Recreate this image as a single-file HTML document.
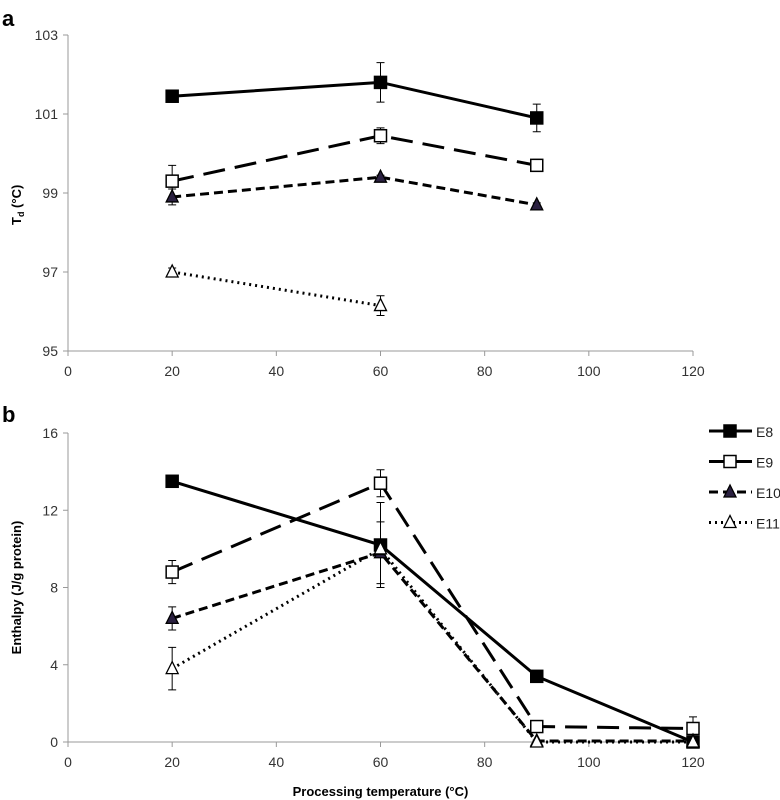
<!DOCTYPE html>
<html><head><meta charset="utf-8"><style>
body{margin:0;background:#fff}
svg{display:block;font-family:"Liberation Sans",sans-serif}
</style></head><body>
<svg id="chart" width="780" height="800" viewBox="0 0 780 800"></svg>
<script>
const xTicks=[0,20,40,60,80,100,120];
const aTicks=[95,97,99,101,103];
const bTicks=[0,4,8,12,16];
const seriesNames=["E8","E9","E10","E11"];
const aX=[[20,60,90],[20,60,90],[20,60,90],[20,60]];
const aY=[[101.45,101.8,100.9],[99.3,100.45,99.7],[98.9,99.4,98.7],[97.0,96.15]];
const aErr=[[0.15,0.5,0.35],[0.4,0.2,0.15],[0.2,0.05,0.05],[0.1,0.25]];
const bX=[20,60,90,120];
const bY=[[13.5,10.2,3.4,0],[8.8,13.4,0.8,0.7],[6.4,9.8,0.05,0.05],[3.8,10.0,0,0]];
const bErr=[[0.1,2.2,0.1,0.1],[0.6,0.7,0.1,0.6],[0.6,1.6,0.05,0.05],[1.1,0.3,0,0]];

const NS="http://www.w3.org/2000/svg";
const svg=document.getElementById('chart');
function el(t,a,p){const e=document.createElementNS(NS,t);for(const k in a)e.setAttribute(k,a[k]);(p||svg).appendChild(e);return e;}
const dash=["none","22,10","9,5","2,4"];
const fill=["#000","#fff","#2a2040","#fff"];
const marker=["sq","sq","tri","tri"];
function xs(v){return 68+v*(693-68)/120;}
function ya(v){return 351-(v-95)*(316/8);}
function yb(v){return 742-v*(309/16);}
function drawMarker(type,x,y,f,g){
  let m;
  if(type==="sq") m=el('rect',{x:x-6,y:y-6,width:12,height:12,fill:f,stroke:'#000','stroke-width':1.5},g);
  else m=el('polygon',{points:`${x},${y-7} ${x-6},${y+5} ${x+6},${y+5}`,fill:f,stroke:'#000','stroke-width':1.3},g);
  
  
}
function axes(yf,ticks,y0,letter,ly){
  const g=el('g',{});
  
  
  el('line',{x1:68,y1:yf(ticks[0]),x2:68,y2:yf(ticks[ticks.length-1]),stroke:'#999'},g);
  el('line',{x1:68,y1:y0,x2:693,y2:y0,stroke:'#999'},g);
  ticks.forEach(t=>{const y=yf(t);el('line',{x1:63,y1:y,x2:68,y2:y,stroke:'#999'},g);
    const tx=el('text',{x:58,y:y+5,'text-anchor':'end','font-size':14,fill:'#333'},g);tx.textContent=t;
    });
  xTicks.forEach(t=>{const x=xs(t);el('line',{x1:x,y1:y0,x2:x,y2:y0+5,stroke:'#999'},g);
    const tx=el('text',{x:x,y:y0+25,'text-anchor':'middle','font-size':14,fill:'#333'},g);tx.textContent=t;
    });
  const L=el('text',{x:2,y:ly,'font-size':22,'font-weight':'bold'},g);L.textContent=letter;
  
  return g;
}
// Panel a
const ga=axes(ya,aTicks,351,'a',26);
const ta=el('text',{transform:`translate(21,${ya(98.7)}) rotate(-90)`,'text-anchor':'middle','font-size':13,'font-weight':'bold'},ga);
ta.innerHTML='T<tspan font-size="9" dy="3">d</tspan><tspan dy="-3"> (°C)</tspan>';

aX.forEach((xsArr,i)=>{
  const pts=xsArr.map((x,j)=>xs(x)+','+ya(aY[i][j])).join(' ');
  const pl=el('polyline',{points:pts,fill:'none',stroke:'#000','stroke-width':3,'stroke-dasharray':dash[i]},ga);
  
  xsArr.forEach((x,j)=>{const X=xs(x),y1=ya(aY[i][j]-aErr[i][j]),y2=ya(aY[i][j]+aErr[i][j]);
    el('path',{d:`M${X},${y1}V${y2}M${X-4},${y1}H${X+4}M${X-4},${y2}H${X+4}`,stroke:'#000','stroke-width':1},ga);
    drawMarker(marker[i],X,ya(aY[i][j]),fill[i],ga);});
});
// Panel b
const gb=axes(yb,bTicks,742,'b',422);
const tb=el('text',{transform:`translate(21,${yb(8)}) rotate(-90)`,'text-anchor':'middle','font-size':13,'font-weight':'bold'},gb);
tb.textContent='Enthalpy (J/g protein)';

const xt=el('text',{x:xs(60),y:796,'text-anchor':'middle','font-size':13,'font-weight':'bold'},gb);
xt.textContent='Processing temperature (°C)';

bY.forEach((ys,i)=>{
  const pts=bX.map((x,j)=>xs(x)+','+yb(ys[j])).join(' ');
  const pl=el('polyline',{points:pts,fill:'none',stroke:'#000','stroke-width':3,'stroke-dasharray':dash[i]},gb);
  
  bX.forEach((x,j)=>{const X=xs(x),y1=yb(ys[j]-bErr[i][j]),y2=yb(ys[j]+bErr[i][j]);
    el('path',{d:`M${X},${y1}V${y2}M${X-4},${y1}H${X+4}M${X-4},${y2}H${X+4}`,stroke:'#000','stroke-width':1},gb);
    drawMarker(marker[i],X,yb(ys[j]),fill[i],gb);});
});
// Legend
const lg=el('g',{});

seriesNames.forEach((n,i)=>{
  const y=431+i*30.5;
  const g=el('g',{},lg);
  
  el('line',{x1:709,y1:y,x2:752,y2:y,stroke:'#000','stroke-width':3,'stroke-dasharray':i===1?'none':dash[i]},g);
  drawMarker(marker[i],730,y,fill[i],g);
  const t=el('text',{x:756,y:y+6,'font-size':14,fill:'#222'},g);t.textContent=n;
});
</script>
</body></html>
